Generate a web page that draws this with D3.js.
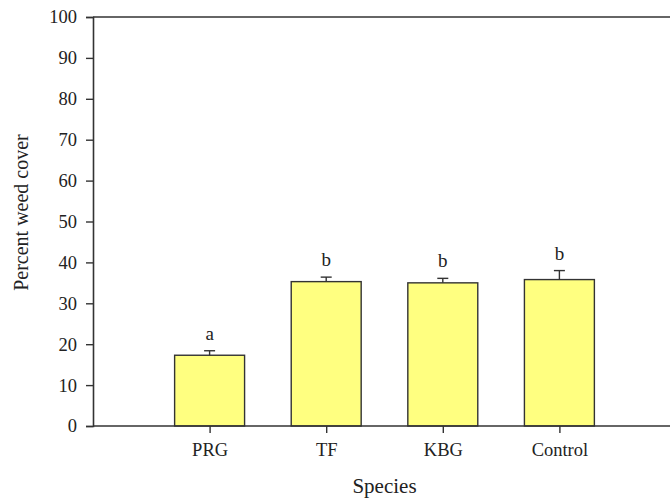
<!DOCTYPE html>
<html>
<head>
<meta charset="utf-8">
<script src="https://cdn.jsdelivr.net/npm/d3@7"></script>
<style>
  html, body { margin: 0; padding: 0; background: #fff; }
  svg { display: block; }
  text { font-family: "Liberation Serif", "Times New Roman", serif; fill: #222; }
</style>
</head>
<body>
<svg id="chart" width="670" height="499"></svg>
<script>
// Mean percent weed cover by species, with standard error and mean-separation letters
const species = ["PRG", "TF", "KBG", "Control"];
const means = [17.3, 35.3, 35.0, 35.8];
const stdErr = [1.1, 1.1, 1.1, 2.2];
const groups = ["a", "b", "b", "b"];
const yTicks = [0, 10, 20, 30, 40, 50, 60, 70, 80, 90, 100];

const svg = d3.select("#chart");
const margin = { left: 93, top: 17, right: -6, bottom: 73 };
const W = 670, H = 499;

// categories sit at positions 1..4 on a 0..5 axis
const x = d3.scaleLinear().domain([0, 5]).range([margin.left, W - margin.right]);
const y = d3.scaleLinear().domain([0, 100]).range([H - margin.bottom, margin.top]);
const barW = x(0.6) - x(0);
const axisColor = "#333";

// frame: top border line
svg.append("line")
  .attr("x1", x(0)).attr("x2", x(5))
  .attr("y1", y(100)).attr("y2", y(100))
  .attr("stroke", axisColor).attr("stroke-width", 1.6);

// bars
svg.append("g").selectAll("rect")
  .data(species)
  .join("rect")
  .attr("x", (d, i) => x(i + 1) - barW / 2)
  .attr("y", (d, i) => y(means[i]))
  .attr("width", barW)
  .attr("height", (d, i) => y(0) - y(means[i]))
  .attr("fill", "#ffff80")
  .attr("stroke", axisColor)
  .attr("stroke-width", 1.4);

// upper error whiskers with caps
const eb = svg.append("g").attr("stroke", axisColor).attr("stroke-width", 1.4);
species.forEach((d, i) => {
  const cx = x(i + 1);
  eb.append("line").attr("x1", cx).attr("x2", cx)
    .attr("y1", y(means[i])).attr("y2", y(means[i] + stdErr[i]));
  eb.append("line").attr("x1", cx - 5.5).attr("x2", cx + 5.5)
    .attr("y1", y(means[i] + stdErr[i])).attr("y2", y(means[i] + stdErr[i]));
});

// significance letters
svg.append("g").selectAll("text")
  .data(groups)
  .join("text")
  .attr("x", (d, i) => x(i + 1))
  .attr("y", (d, i) => y(means[i] + stdErr[i]) - 11)
  .attr("text-anchor", "middle")
  .attr("font-size", 19)
  .text(d => d);

// y axis
const yAxis = svg.append("g")
  .attr("transform", `translate(${x(0)},0)`)
  .call(d3.axisLeft(y).tickValues(yTicks).tickSize(7).tickPadding(9).tickFormat(d3.format("d")));
yAxis.select(".domain").attr("stroke", axisColor).attr("stroke-width", 1.6);
yAxis.selectAll(".tick line").attr("stroke", axisColor).attr("stroke-width", 1.4);
yAxis.selectAll(".tick text").attr("font-size", 18.5)
  .attr("font-family", "Liberation Serif").attr("fill", "#222");

// x axis
const xAxis = svg.append("g")
  .attr("transform", `translate(0,${y(0)})`)
  .call(d3.axisBottom(x).tickValues([1, 2, 3, 4]).tickSize(7).tickPadding(10)
    .tickFormat(d => species[d - 1]));
xAxis.select(".domain").attr("stroke", axisColor).attr("stroke-width", 1.6)
  .attr("d", `M${x(0)},0H${x(5)}`);
xAxis.selectAll(".tick line").attr("stroke", axisColor).attr("stroke-width", 1.4);
xAxis.selectAll(".tick text").attr("font-size", 18.5)
  .attr("font-family", "Liberation Serif").attr("fill", "#222");

// axis titles
svg.append("text")
  .attr("transform", `translate(28,${(y(0) + y(100)) / 2 - 9}) rotate(-90)`)
  .attr("text-anchor", "middle")
  .attr("font-size", 20)
  .text("Percent weed cover");

svg.append("text")
  .attr("x", (x(0) + x(5)) / 2)
  .attr("y", 493)
  .attr("text-anchor", "middle")
  .attr("font-size", 21)
  .text("Species");
</script>
</body>
</html>
